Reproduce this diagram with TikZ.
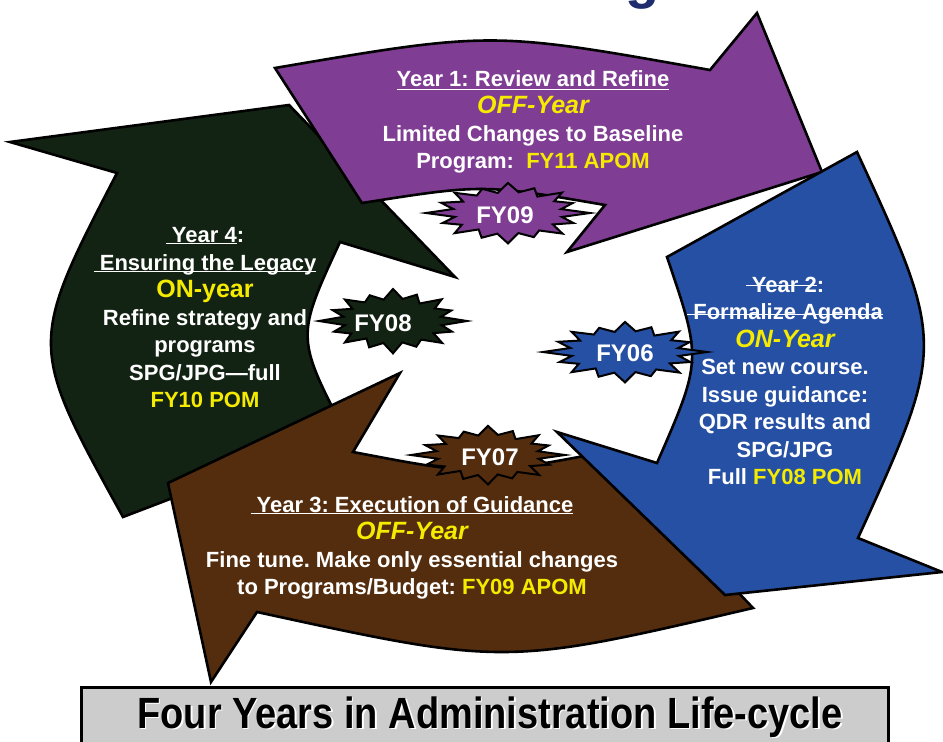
\documentclass[tikz,border=0pt]{standalone}
\usepackage{fontspec}
\setmainfont{Liberation Sans}
\usepackage{graphicx}
\frenchspacing

\definecolor{yrpurple}{RGB}{128,61,148}
\definecolor{yrblue}{RGB}{37,80,163}
\definecolor{yrgreen}{RGB}{19,35,19}
\definecolor{yrbrown}{RGB}{84,45,14}
\definecolor{hlyellow}{RGB}{245,235,0}
\definecolor{bannergray}{RGB}{204,204,204}
\definecolor{titlenavy}{RGB}{31,45,110}

\tikzset{
  yeararrow/.style={draw=black, line width=2.6pt, line join=miter},
  burstline/.style={draw=black, line width=2pt, line join=miter},
  fytext/.style={text=white, inner sep=0pt, font=\fontsize{24}{24}\selectfont\bfseries},
  yeartext/.style={text=white, align=center, inner sep=0pt,
    font=\fontsize{22}{27.5}\selectfont\bfseries},
  bannertext/.style={anchor=base, inner sep=0pt, font=\fontsize{38}{38}\selectfont\bfseries},
}

% underline (or line through) a piece of text
\newcommand{\lined}[2]{\leavevmode\setbox0\hbox{#2}\rlap{\rule[#1]{\wd0}{1.3pt}}\box0}
\newcommand{\hl}[1]{\textcolor{hlyellow}{#1}}
\newcommand{\yrkind}[1]{\textcolor{hlyellow}{\fontsize{25}{27.5}\selectfont\itshape #1}}
% star burst behind a fiscal year label
\newcommand{\fyburst}[4]{%
  \draw[burstline, fill=#2, shift={#1}, x=#3pt, y=-#4pt]
    (0:1) -- (11:.67) -- (22:.86) -- (34:.66) -- (45:.94) -- (56:.68) -- (68:.84) -- (79:.66)
    -- (90:.98) -- (101:.68) -- (112:.86) -- (124:.64) -- (135:.92) -- (146:.68) -- (158:.86)
    -- (169:.66) -- (180:1) -- (191:.68) -- (202:.88) -- (214:.66) -- (225:.92) -- (236:.68)
    -- (248:.84) -- (259:.66) -- (270:.97) -- (281:.68) -- (292:.86) -- (304:.64) -- (315:.93)
    -- (326:.68) -- (338:.85) -- (349:.66) -- cycle;}

\begin{document}
\begin{tikzpicture}[x=1pt,y=-1pt]
\useasboundingbox (0,0) rectangle (943,742);

% what is left of the title
\node[anchor=base, inner sep=0pt, text=titlenavy, font=\fontsize{56}{56}\selectfont\bfseries]
  (title) at (643,-3) {g};

% the four year arrows
\draw[yeararrow, fill=yrgreen] (117,173) -- (10,142) -- (289,105) -- (455,277) -- (340,242)
  .. controls (296,337) .. (345,432) -- (123,517) .. controls (28,345) .. cycle;
\draw[yeararrow, fill=yrbrown] (753,608) .. controls (505,666) .. (257,612) -- (211,682)
  -- (168,483) -- (400,373) -- (353,452) .. controls (479,476) .. (605,452) -- cycle;
\draw[yeararrow, fill=yrpurple] (275,68) .. controls (492,31) .. (710,70) -- (757,13)
  -- (822,172) -- (567,252) -- (605,205) .. controls (483,184) .. (362,203) -- cycle;
\draw[yeararrow, fill=yrblue] (857,152) .. controls (946,345) .. (858,538) -- (942,572)
  -- (725,595) -- (557,432) -- (657,463) .. controls (702,360) .. (667,257) -- cycle;

% fiscal years
\fyburst{(508,213)}{yrpurple}{82}{31}
\fyburst{(393,321)}{yrgreen}{74}{33}
\fyburst{(625,352)}{yrblue}{82}{31}
\fyburst{(488,455)}{yrbrown}{77}{30}
\node[fytext] (fy09) at (505,215) {FY09};
\node[fytext] (fy08) at (383,323) {FY08};
\node[fytext] (fy06) at (625,353) {FY06};
\node[fytext] (fy07) at (490,457) {FY07};

% texts of the years
\node[yeartext] (year1) at (533,122) {\lined{-3.5pt}{Year 1: Review and Refine}\\
  \yrkind{OFF-Year}\\ Limited Changes to Baseline\\ Program:~~\hl{FY11 APOM}};
\node[yeartext] (year2) at (785,381) {\lined{6pt}{\ Year 2}:\\ \lined{5pt}{\ Formalize Agenda}\\
  \yrkind{ON-Year}\\ Set new course.\\ Issue guidance:\\ QDR results and\\ SPG/JPG\\
  Full \hl{FY08 POM}};
\node[yeartext] (year3) at (412,548) {\lined{-1.5pt}{\ Year 3: Execution of Guidance}\\
  \yrkind{OFF-Year}\\ Fine tune. Make only essential changes\\ to Programs/Budget: \hl{FY09 APOM}};
\node[yeartext] (year4) at (205,318) {\lined{-1pt}{\ Year 4}:\\ \lined{-2pt}{\ Ensuring the Legacy}\\
  \hl{\fontsize{25}{27.5}\selectfont ON-year}\\ Refine strategy and\\ programs\\ SPG/JPG—full\\
  \hl{FY10 POM}};

% banner
\node[draw=black, line width=2.5pt, fill=bannergray, anchor=north west,
  minimum width=807pt, minimum height=80pt] (banner) at (80,686) {};
\node[bannertext, text=white] (bannershadow) at (491.5,729.5)
  {\scalebox{1}[1.15]{Four Years in Administration Life-cycle}};
\node[bannertext] (bannerlabel) at (490,728)
  {\scalebox{1}[1.15]{Four Years in Administration Life-cycle}};
\end{tikzpicture}
\end{document}
